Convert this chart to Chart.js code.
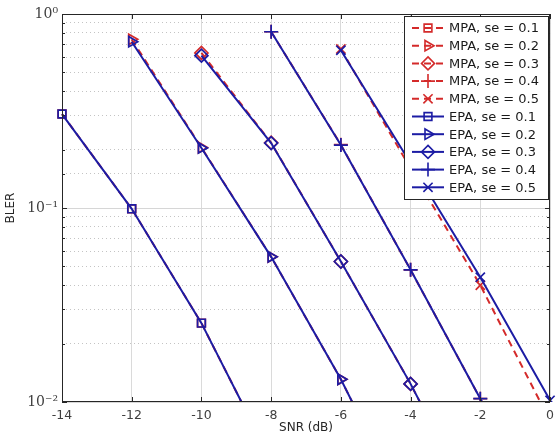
<!DOCTYPE html>
<html>
<head>
<meta charset="utf-8">
<script src="https://cdn.jsdelivr.net/npm/chart.js@4/dist/chart.umd.min.js"></script>
<style>
  html, body { margin: 0; padding: 0; background: #fff; }
  #wrap { width: 560px; height: 438px; }
</style>
</head>
<body>
<div id="wrap"><canvas id="myChart" width="560" height="438"></canvas></div>
<script>
const snr = [-14, -12, -10, -8, -6, -4, -2, 0];

// BLER (null = no point)
const mpa01 = [0.305, 0.099, 0.0255, 0.005, null, null, null, null];
const mpa02 = [null, 0.74, 0.205, 0.056, 0.0131, 0.0025, null, null];
const mpa03 = [null, null, 0.63, 0.217, 0.053, 0.0124, 0.0025, null];
const mpa04 = [null, null, null, 0.81, 0.212, 0.048, 0.0104, 0.002];
const mpa05 = [null, null, null, null, 0.66, 0.16, 0.040, 0.008];

const epa01 = [0.305, 0.099, 0.0255, 0.005, null, null, null, null];
const epa02 = [null, 0.72, 0.204, 0.056, 0.0131, 0.0025, null, null];
const epa03 = [null, null, 0.61, 0.216, 0.053, 0.0124, 0.0025, null];
const epa04 = [null, null, null, 0.81, 0.211, 0.048, 0.0104, 0.002];
const epa05 = [null, null, null, null, 0.65, 0.17, 0.044, 0.0102];

const seLabels = ['0.1', '0.2', '0.3', '0.4', '0.5'];
const xTicks = [-14, -12, -10, -8, -6, -4, -2, 0];

const RED = '#d42a2a';
const BLUE = '#1c1ca4';
const markers = [
  { style: 'rect', rot: 0, r: 5.5 },
  { style: 'triangle', rot: 90, r: 6 },
  { style: 'rectRot', rot: 0, r: 6.5 },
  { style: 'cross', rot: 0, r: 7 },
  { style: 'crossRot', rot: 0, r: 6.5 }
];

function pts(vals) {
  const out = [];
  vals.forEach((v, i) => { if (v !== null) out.push({ x: snr[i], y: v }); });
  return out;
}

function makeSet(name, vals, k, color, dashed) {
  return {
    label: name + ', se = ' + seLabels[k],
    data: pts(vals),
    borderColor: color,
    backgroundColor: 'rgba(0,0,0,0)',
    borderWidth: 2,
    borderDash: dashed ? [7, 5] : [],
    pointStyle: markers[k].style,
    pointRotation: markers[k].rot,
    pointRadius: markers[k].r,
    pointBorderWidth: 1.7,
    pointBorderColor: color,
    pointBackgroundColor: 'rgba(0,0,0,0)',
    tension: 0,
    order: dashed ? 1 : 0,
    clip: { left: 12, right: 12, top: 12, bottom: 0 }
  };
}

const mpaVals = [mpa01, mpa02, mpa03, mpa04, mpa05];
const epaVals = [epa01, epa02, epa03, epa04, epa05];
const datasets = [];
mpaVals.forEach((v, k) => datasets.push(makeSet('MPA', v, k, RED, true)));
epaVals.forEach((v, k) => datasets.push(makeSet('EPA', v, k, BLUE, false)));

function isMajor(v) {
  const l = Math.log10(v);
  return Math.abs(l - Math.round(l)) < 1e-6;
}
const sup = { '0': '\u2070', '1': '\u00b9', '2': '\u00b2', '-': '\u207b' };
function decadeLabel(v) {
  const e = String(Math.round(Math.log10(v)));
  return '10' + e.split('').map(c => sup[c]).join('');
}

function marker(ctx, style, rot, r, x, y) {
  ctx.save();
  ctx.translate(x, y);
  ctx.rotate(rot * Math.PI / 180);
  ctx.beginPath();
  if (style === 'rect') {
    const s = r * Math.SQRT1_2;
    ctx.rect(-s, -s, 2 * s, 2 * s);
  } else if (style === 'triangle') {
    ctx.moveTo(0, -r);
    ctx.lineTo(r * 0.866, r * 0.5);
    ctx.lineTo(-r * 0.866, r * 0.5);
    ctx.closePath();
  } else if (style === 'rectRot') {
    ctx.moveTo(0, -r); ctx.lineTo(r, 0); ctx.lineTo(0, r); ctx.lineTo(-r, 0); ctx.closePath();
  } else if (style === 'cross') {
    ctx.moveTo(0, -r); ctx.lineTo(0, r); ctx.moveTo(-r, 0); ctx.lineTo(r, 0);
  } else {
    const s = r * Math.SQRT1_2;
    ctx.moveTo(-s, -s); ctx.lineTo(s, s); ctx.moveTo(s, -s); ctx.lineTo(-s, s);
  }
  ctx.stroke();
  ctx.restore();
}

// matlab style box, inward ticks and legend
const boxPlugin = {
  id: 'boxPlugin',
  afterDraw(chart) {
    const ctx = chart.ctx;
    const a = chart.chartArea;
    const xs = chart.scales.x, ys = chart.scales.y;
    ctx.save();
    ctx.strokeStyle = '#262626';
    ctx.lineWidth = 1;
    ctx.setLineDash([]);
    ctx.strokeRect(a.left + 0.5, a.top + 0.5, a.right - a.left - 1, a.bottom - a.top - 1);
    ctx.beginPath();
    xs.ticks.forEach(t => {
      const px = Math.round(xs.getPixelForValue(t.value)) + 0.5;
      ctx.moveTo(px, a.bottom); ctx.lineTo(px, a.bottom - 5);
      ctx.moveTo(px, a.top); ctx.lineTo(px, a.top + 5);
    });
    ys.ticks.forEach(t => {
      const py = Math.round(ys.getPixelForValue(t.value)) + 0.5;
      const len = isMajor(t.value) ? 5 : 3;
      ctx.moveTo(a.left, py); ctx.lineTo(a.left + len, py);
      ctx.moveTo(a.right, py); ctx.lineTo(a.right - len, py);
    });
    ctx.stroke();

    // legend
    const bx = 404, by = 16, bw = 144, bh = 183;
    ctx.fillStyle = '#fff';
    ctx.fillRect(bx, by, bw, bh);
    ctx.strokeStyle = '#262626';
    ctx.strokeRect(bx + 0.5, by + 0.5, bw, bh);
    ctx.font = '13px "DejaVu Sans"';
    ctx.textBaseline = 'middle';
    ctx.textAlign = 'left';
    chart.data.datasets.forEach((ds, i) => {
      const y = by + 12 + i * 17.7;
      const k = i % 5;
      ctx.strokeStyle = ds.borderColor;
      ctx.lineWidth = 2;
      ctx.setLineDash(ds.borderDash);
      ctx.beginPath();
      ctx.moveTo(412, y); ctx.lineTo(444, y);
      ctx.stroke();
      ctx.setLineDash([]);
      ctx.lineWidth = 1.6;
      marker(ctx, markers[k].style, markers[k].rot, markers[k].r, 428, y);
      ctx.fillStyle = '#1a1a1a';
      ctx.fillText(ds.label, 449, y + 1);
    });
    ctx.restore();
  }
};

const canvas = document.getElementById('myChart');

const config = {
  type: 'line',
  data: { datasets },
  options: {
    responsive: false,
    animation: false,
    layout: { padding: { top: 14, right: 8, left: 0, bottom: 0 } },
    plugins: { legend: { display: false }, tooltip: { enabled: false } },
    scales: {
      x: {
        type: 'linear',
        min: -14,
        max: 0,
        afterBuildTicks: s => { s.ticks = xTicks.map(v => ({ value: v })); },
        afterFit: s => { s.height = 36; },
        grid: { color: '#dadada', lineWidth: 1, drawTicks: false },
        border: { display: false },
        ticks: {
          padding: 6,
          color: '#404040',
          font: { family: 'DejaVu Sans', size: 12.5 },
          maxRotation: 0
        },
        title: {
          display: true,
          text: 'SNR (dB)',
          color: '#262626',
          font: { family: 'DejaVu Sans', size: 12 },
          padding: { top: 0, bottom: 3 }
        }
      },
      y: {
        type: 'logarithmic',
        min: 0.01,
        max: 1,
        afterFit: s => { s.width = 62; },
        grid: {
          drawTicks: false,
          lineWidth: 1,
          color: c => (c.tick && isMajor(c.tick.value)) ? '#d6d6d6' : '#c4c4c4'
        },
        border: {
          display: false,
          dash: c => (c.tick && !isMajor(c.tick.value)) ? [1, 3] : []
        },
        ticks: {
          autoSkip: false,
          padding: 4,
          color: '#404040',
          font: { family: 'DejaVu Serif', size: 14 },
          callback: v => isMajor(v) ? decadeLabel(v) : ''
        },
        title: {
          display: true,
          text: 'BLER',
          color: '#262626',
          font: { family: 'DejaVu Sans', size: 12 },
          padding: { top: 4, bottom: 2 }
        }
      }
    }
  },
  plugins: [boxPlugin]
};

const chart = new Chart(canvas, config);
</script>
</body>
</html>
